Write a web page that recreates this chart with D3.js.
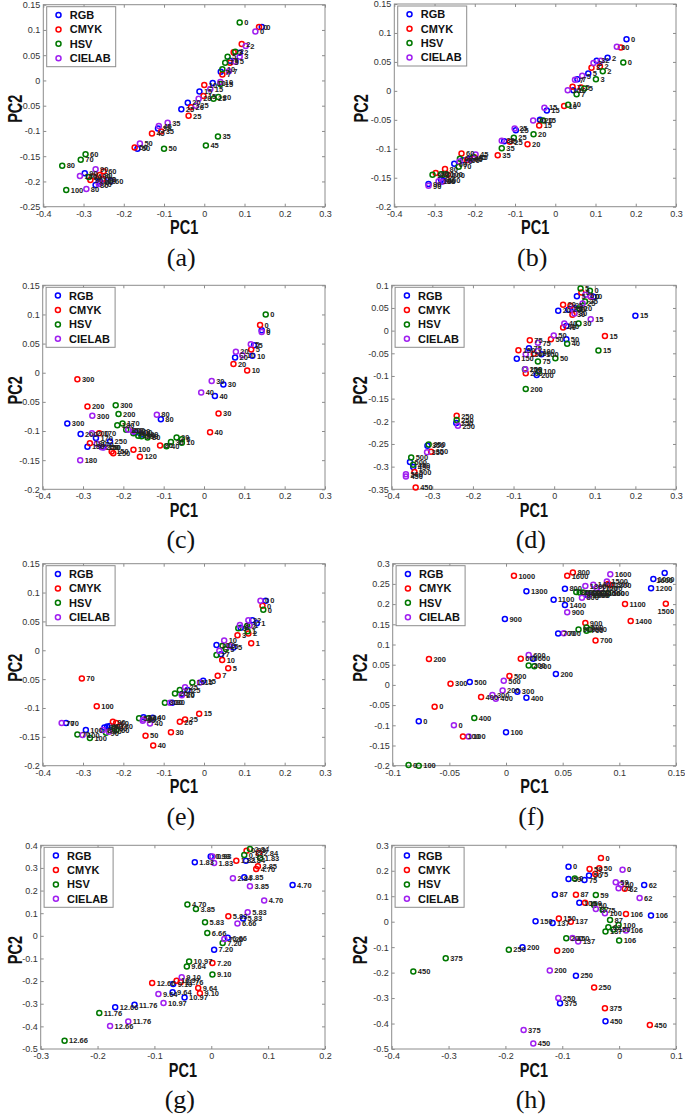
<!DOCTYPE html>
<html><head><meta charset="utf-8">
<script src="https://cdn.jsdelivr.net/npm/d3@7"></script>
<style>
body{margin:0;background:#fff;}
svg{display:block;font-family:"Liberation Sans",Arial,Helvetica,sans-serif;}
</style>
</head><body>
<svg id="chart" width="685" height="1114"></svg>
<script>
// ---------- series ----------
const seriesNames = ["RGB","CMYK","HSV","CIELAB"];
const seriesColors = ["#0000ff","#ff0000","#007800","#a020f0"];

// ---------- tick values ----------
const xTicks_a = [-0.4,-0.3,-0.2,-0.1,0,0.1,0.2,0.3];
const yTicks_a = [-0.25,-0.2,-0.15,-0.1,-0.05,0,0.05,0.1,0.15];
const xTicks_b = [-0.4,-0.3,-0.2,-0.1,0,0.1,0.2,0.3];
const yTicks_b = [-0.2,-0.15,-0.1,-0.05,0,0.05,0.1,0.15];
const xTicks_c = [-0.4,-0.3,-0.2,-0.1,0,0.1,0.2,0.3];
const yTicks_c = [-0.2,-0.15,-0.1,-0.05,0,0.05,0.1,0.15];
const xTicks_d = [-0.4,-0.3,-0.2,-0.1,0,0.1,0.2,0.3];
const yTicks_d = [-0.35,-0.3,-0.25,-0.2,-0.15,-0.1,-0.05,0,0.05,0.1];
const xTicks_e = [-0.4,-0.3,-0.2,-0.1,0,0.1,0.2,0.3];
const yTicks_e = [-0.2,-0.15,-0.1,-0.05,0,0.05,0.1,0.15];
const xTicks_f = [-0.1,-0.05,0,0.05,0.1,0.15];
const yTicks_f = [-0.2,-0.15,-0.1,-0.05,0,0.05,0.1,0.15,0.2,0.25,0.3];
const xTicks_g = [-0.3,-0.2,-0.1,0,0.1,0.2];
const yTicks_g = [-0.5,-0.4,-0.3,-0.2,-0.1,0,0.1,0.2,0.3,0.4];
const xTicks_h = [-0.4,-0.3,-0.2,-0.1,0,0.1];
const yTicks_h = [-0.5,-0.4,-0.3,-0.2,-0.1,0,0.1,0.2,0.3];

// ---------- data: [label, PC1, PC2] ----------
const a_RGB = [["0",0.143,0.106],["2",0.088,0.055],["5",0.064,0.039],["7",0.041,0.017],["10",0.021,-0.005],["15",-0.012,-0.022],["20",-0.041,-0.044],["25",-0.057,-0.057],["35",-0.115,-0.095],["50",-0.166,-0.135],["60",-0.233,-0.199],["70",-0.25,-0.195],["80",-0.27,-0.207],["90",-0.297,-0.184],["100",-0.262,-0.2]];
const a_CMYK = [["0",0.136,0.106],["2",0.093,0.072],["3",0.073,0.056],["5",0.064,0.035],["7",0.045,0.012],["10",0.0,-0.009],["15",-0.002,-0.031],["20",-0.033,-0.053],["25",-0.039,-0.07],["35",-0.107,-0.101],["45",-0.13,-0.105],["50",-0.173,-0.133],["60",-0.25,-0.18],["70",-0.252,-0.195],["80",-0.26,-0.187],["90",-0.283,-0.197],["100",-0.275,-0.19]];
const a_HSV = [["0",0.088,0.115],["2",0.077,0.057],["5",0.058,0.047],["7",0.052,0.035],["10",0.045,0.022],["15",0.04,-0.007],["20",0.035,-0.033],["25",0.023,-0.036],["35",0.034,-0.111],["45",0.004,-0.129],["50",-0.1,-0.135],["60",-0.295,-0.146],["70",-0.307,-0.157],["80",-0.353,-0.169],["90",-0.287,-0.191],["100",-0.343,-0.217]];
const a_CIELAB = [["0",0.127,0.097],["2",0.103,0.068],["3",0.088,0.047],["5",0.077,0.037],["7",0.061,0.018],["10",0.04,-0.003],["15",0.015,-0.017],["20",-0.014,-0.036],["25",-0.021,-0.05],["35",-0.091,-0.084],["45",-0.113,-0.09],["50",-0.16,-0.125],["60",-0.258,-0.202],["70",-0.262,-0.205],["80",-0.293,-0.215],["90",-0.27,-0.176],["100",-0.309,-0.189]];

const b_RGB = [["0",0.177,0.089],["2",0.13,0.057],["3",0.103,0.052],["5",0.082,0.03],["7",0.055,0.02],["10",0.045,0.001],["15",-0.021,-0.034],["20",-0.038,-0.05],["25",-0.098,-0.068],["35",-0.127,-0.087],["45",-0.212,-0.117],["60",-0.251,-0.126],["70",-0.23,-0.12],["80",-0.284,-0.153],["90",-0.315,-0.161],["100",-0.278,-0.155]];
const b_CMYK = [["0",0.163,0.075],["2",0.111,0.042],["3",0.09,0.04],["5",0.064,0.006],["7",0.043,0.007],["10",0.022,-0.026],["15",-0.04,-0.06],["20",-0.069,-0.092],["25",-0.113,-0.088],["35",-0.143,-0.111],["45",-0.2,-0.115],["60",-0.233,-0.108],["70",-0.22,-0.12],["80",-0.274,-0.135],["90",-0.297,-0.142],["100",-0.267,-0.145]];
const b_HSV = [["0",0.169,0.049],["2",0.118,0.034],["3",0.101,0.02],["5",0.072,0.004],["7",0.053,-0.006],["10",0.032,-0.024],["15",-0.03,-0.051],["20",-0.054,-0.075],["25",-0.103,-0.081],["35",-0.133,-0.099],["45",-0.204,-0.114],["60",-0.237,-0.117],["70",-0.24,-0.131],["80",-0.284,-0.144],["90",-0.305,-0.145],["100",-0.272,-0.144]];
const b_CIELAB = [["0",0.153,0.076],["2",0.113,0.052],["3",0.095,0.048],["5",0.067,0.026],["7",0.049,0.019],["10",0.031,0.001],["15",-0.027,-0.029],["20",-0.055,-0.051],["25",-0.101,-0.065],["35",-0.133,-0.086],["45",-0.198,-0.11],["60",-0.212,-0.119],["70",-0.238,-0.122],["80",-0.281,-0.157],["90",-0.315,-0.164],["100",-0.29,-0.156]];

const c_RGB = [["0",0.143,0.073],["5",0.124,0.047],["10",0.12,0.029],["20",0.077,0.026],["30",0.048,-0.02],["40",0.027,-0.04],["80",-0.107,-0.08],["100",-0.17,-0.103],["120",-0.155,-0.106],["150",-0.25,-0.128],["170",-0.268,-0.112],["180",-0.289,-0.127],["200",-0.306,-0.105],["250",-0.233,-0.118],["300",-0.339,-0.087]];
const c_CMYK = [["0",0.139,0.082],["5",0.117,0.04],["10",0.107,0.004],["20",0.073,0.015],["30",0.036,-0.07],["40",0.015,-0.102],["80",-0.109,-0.125],["100",-0.175,-0.132],["120",-0.159,-0.144],["150",-0.229,-0.135],["170",-0.26,-0.104],["180",-0.283,-0.121],["200",-0.289,-0.058],["250",-0.225,-0.138],["300",-0.314,-0.011]];
const c_HSV = [["0",0.153,0.1],["5",-0.055,-0.114],["10",-0.055,-0.12],["20",-0.068,-0.111],["30",-0.082,-0.119],["40",-0.093,-0.126],["80",-0.14,-0.111],["100",-0.163,-0.108],["120",-0.175,-0.104],["150",-0.193,-0.098],["170",-0.202,-0.087],["180",-0.215,-0.09],["200",-0.212,-0.071],["250",-0.155,-0.109],["300",-0.219,-0.056]];
const c_CIELAB = [["0",0.143,0.07],["5",0.116,0.049],["10",0.095,0.03],["20",0.079,0.036],["30",0.019,-0.014],["40",-0.007,-0.034],["80",-0.117,-0.072],["100",-0.188,-0.098],["120",-0.175,-0.101],["150",-0.248,-0.128],["170",-0.266,-0.122],["180",-0.307,-0.15],["200",-0.278,-0.104],["250",-0.254,-0.128],["300",-0.277,-0.074]];

const d_RGB = [["0",0.097,0.075],["5",0.056,0.076],["15",0.2,0.033],["20",0.01,0.044],["25",0.035,0.046],["30",0.05,0.05],["40",0.03,0.01],["50",0.03,-0.019],["75",-0.062,-0.039],["100",-0.031,-0.052],["150",-0.092,-0.062],["200",-0.043,-0.098],["250",-0.241,-0.204],["350",-0.312,-0.254],["450",-0.347,-0.301],["500",-0.355,-0.29]];
const d_CMYK = [["0",0.09,0.075],["5",0.067,0.084],["15",0.125,-0.012],["20",0.022,0.057],["25",0.04,0.055],["30",0.045,0.035],["40",0.022,0.007],["50",-0.008,-0.019],["75",-0.06,-0.021],["100",-0.05,-0.051],["150",-0.088,-0.043],["200",-0.07,-0.094],["250",-0.24,-0.188],["350",-0.303,-0.267],["450",-0.341,-0.346],["500",-0.344,-0.312]];
const d_HSV = [["0",0.088,0.088],["5",0.065,0.093],["15",0.109,-0.044],["20",0.062,0.049],["25",0.076,0.064],["30",0.06,0.016],["40",0.032,-0.029],["50",0.003,-0.061],["75",-0.04,-0.068],["100",-0.038,-0.09],["150",-0.072,-0.085],["200",-0.07,-0.129],["250",-0.24,-0.197],["350",-0.309,-0.251],["450",-0.347,-0.296],["500",-0.352,-0.28]];
const d_CIELAB = [["0",0.09,0.076],["5",0.077,0.079],["15",0.09,0.025],["20",0.045,0.048],["25",0.07,0.06],["30",0.05,0.038],["40",0.025,0.016],["50",-0.001,-0.011],["75",-0.04,-0.027],["100",-0.04,-0.045],["150",-0.07,-0.052],["200",-0.071,-0.085],["250",-0.237,-0.21],["350",-0.313,-0.268],["450",-0.365,-0.322],["500",-0.365,-0.317]];

const e_RGB = [["0",0.153,0.086],["1",0.131,0.047],["2",0.12,0.052],["3",0.091,0.039],["5",0.073,0.005],["7",0.042,-0.007],["10",0.031,0.009],["15",-0.002,-0.053],["20",-0.055,-0.076],["25",-0.041,-0.069],["30",-0.079,-0.091],["40",-0.127,-0.117],["50",-0.15,-0.116],["60",-0.233,-0.131],["70",-0.342,-0.126],["80",-0.247,-0.134],["90",-0.24,-0.132],["100",-0.293,-0.138]];
const e_CMYK = [["0",0.145,0.077],["1",0.117,0.012],["2",0.11,0.029],["3",0.083,0.026],["5",0.06,-0.031],["7",0.034,-0.044],["10",0.045,-0.017],["15",-0.012,-0.11],["20",-0.06,-0.124],["25",-0.047,-0.12],["30",-0.082,-0.142],["40",-0.126,-0.165],["50",-0.145,-0.148],["60",-0.218,-0.126],["70",-0.303,-0.049],["80",-0.208,-0.131],["90",-0.226,-0.124],["100",-0.266,-0.097]];
const e_HSV = [["0",0.147,0.07],["1",0.108,0.033],["2",0.107,0.042],["3",0.085,0.038],["5",0.054,0.002],["7",0.031,-0.008],["10",0.046,0.008],["15",-0.029,-0.056],["20",-0.072,-0.075],["25",-0.06,-0.069],["30",-0.097,-0.091],["40",-0.138,-0.118],["50",-0.161,-0.118],["60",-0.217,-0.138],["70",-0.314,-0.146],["80",-0.222,-0.135],["90",-0.243,-0.143],["100",-0.283,-0.152]];
const e_CIELAB = [["0",0.14,0.086],["1",0.113,0.043],["2",0.11,0.052],["3",0.089,0.044],["5",0.064,0.007],["7",0.038,-0.001],["10",0.05,0.017],["15",-0.01,-0.056],["20",-0.055,-0.078],["25",-0.047,-0.064],["30",-0.084,-0.091],["40",-0.134,-0.127],["50",-0.152,-0.122],["60",-0.15,-0.12],["70",-0.353,-0.126],["80",-0.251,-0.138],["90",-0.236,-0.141],["100",-0.301,-0.147]];

const f_RGB = [["0",-0.077,-0.09],["100",0.0,-0.117],["200",0.044,0.027],["300",0.01,-0.017],["400",0.018,-0.032],["500",-0.032,0.007],["600",0.024,0.065],["700",0.046,0.127],["800",0.052,0.238],["900",-0.001,0.163],["1000",0.13,0.262],["1100",0.042,0.211],["1200",0.128,0.239],["1300",0.018,0.232],["1400",0.052,0.198],["1500",0.072,0.222],["1600",0.14,0.277]];
const f_CMYK = [["0",-0.063,-0.054],["100",-0.038,-0.128],["200",-0.068,0.064],["300",-0.049,0.003],["400",-0.022,-0.03],["500",0.003,0.022],["600",0.013,0.065],["700",0.079,0.11],["800",0.059,0.278],["900",0.07,0.153],["1000",0.007,0.27],["1100",0.105,0.2],["1200",0.092,0.247],["1300",0.09,0.25],["1400",0.11,0.158],["1500",0.141,0.201],["1600",0.054,0.27]];
const f_HSV = [["0",-0.086,-0.198],["100",-0.077,-0.2],["200",0.02,0.048],["300",0.025,0.046],["400",-0.028,-0.082],["500",0.071,0.142],["600",0.074,0.137],["700",0.071,0.134],["800",0.062,0.23],["900",0.064,0.137],["1000",0.065,0.229],["1100",0.068,0.229],["1200",0.072,0.226],["1300",0.078,0.226],["1400",0.082,0.226],["1500",0.086,0.226],["1600",0.09,0.226]];
const f_CIELAB = [["0",-0.046,-0.1],["100",-0.033,-0.128],["200",-0.003,-0.014],["300",-0.012,-0.025],["400",-0.009,-0.034],["500",-0.002,0.01],["600",0.02,0.074],["700",0.051,0.128],["800",0.067,0.216],["900",0.054,0.18],["1000",0.073,0.222],["1100",0.08,0.24],["1200",0.084,0.238],["1300",0.07,0.245],["1400",0.077,0.248],["1500",0.089,0.256],["1600",0.092,0.274]];

const g_RGB = [["0.93",-0.001,0.35],["1.83",-0.029,0.325],["2.84",0.061,0.332],["3.85",0.058,0.259],["4.70",0.143,0.225],["5.83",0.056,0.077],["6.66",0.029,-0.009],["7.20",0.005,-0.061],["9.10",-0.067,-0.213],["9.64",-0.068,-0.249],["10.97",-0.047,-0.272],["11.76",-0.135,-0.305],["12.66",-0.169,-0.316]];
const g_CMYK = [["0.93",0.062,0.376],["1.83",0.044,0.332],["2.84",0.084,0.366],["3.85",0.082,0.307],["4.70",0.079,0.295],["5.83",0.03,0.086],["7.20",0.002,-0.12],["9.10",-0.02,-0.254],["9.64",-0.023,-0.23],["10.97",-0.061,-0.198],["11.76",-0.054,-0.205],["12.66",-0.104,-0.208]];
const g_HSV = [["0.93",0.058,0.357],["1.83",0.086,0.344],["2.84",0.068,0.384],["3.85",-0.027,0.119],["4.70",-0.042,0.138],["5.83",-0.011,0.06],["6.66",-0.007,0.013],["7.20",0.02,-0.032],["9.10",0.002,-0.171],["9.64",-0.043,-0.135],["10.97",-0.039,-0.113],["11.76",-0.197,-0.341],["12.66",-0.258,-0.463]];
const g_CIELAB = [["0.93",0.002,0.351],["1.83",0.005,0.322],["2.84",0.038,0.254],["3.85",0.068,0.219],["4.70",0.093,0.156],["5.83",0.064,0.104],["6.66",0.046,0.055],["7.20",0.023,-0.014],["9.10",-0.052,-0.183],["9.64",-0.093,-0.257],["10.97",-0.084,-0.297],["11.76",-0.146,-0.378],["12.66",-0.178,-0.398]];

const h_RGB = [["0",-0.089,0.216],["50",-0.053,0.181],["59",-0.089,0.168],["62",0.044,0.144],["75",-0.061,0.164],["87",-0.113,0.106],["100",-0.07,0.074],["106",0.056,0.024],["137",-0.117,-0.005],["150",-0.147,0.002],["200",-0.17,-0.1],["250",-0.076,-0.212],["375",-0.104,-0.32],["450",-0.024,-0.391]];
const h_CMYK = [["0",-0.032,0.25],["50",-0.035,0.21],["59",-0.052,0.207],["62",0.01,0.129],["75",-0.042,0.187],["87",-0.076,0.106],["100",-0.06,0.074],["106",0.012,0.03],["137",-0.085,0.0],["150",-0.106,0.013],["200",-0.109,-0.114],["250",-0.044,-0.258],["375",-0.025,-0.34],["450",0.054,-0.406]];
const h_HSV = [["0",-0.078,0.17],["50",-0.044,0.066],["59",-0.041,0.105],["62",-0.019,-0.022],["75",-0.029,0.046],["87",-0.016,0.007],["100",-0.001,-0.013],["106",0.0,-0.074],["137",-0.024,-0.039],["150",-0.01,-0.031],["200",-0.093,-0.065],["250",-0.194,-0.11],["375",-0.305,-0.144],["450",-0.362,-0.196]];
const h_CIELAB = [["0",0.006,0.204],["50",0.003,0.146],["59",-0.006,0.155],["62",0.036,0.093],["75",-0.001,0.131],["87",-0.041,0.05],["100",-0.025,0.033],["106",0.012,-0.035],["137",-0.072,-0.078],["150",-0.082,-0.064],["200",-0.122,-0.192],["250",-0.107,-0.3],["375",-0.168,-0.425],["450",-0.151,-0.478]];

// ---------- layout ----------
const panels = [
  {cap:"(a)", box:[43.3,4.7,325,206.7],   xt:xTicks_a, yt:yTicks_a, s:[a_RGB,a_CMYK,a_HSV,a_CIELAB], ylx:21.7},
  {cap:"(b)", box:[394.3,4.0,676,206.7],  xt:xTicks_b, yt:yTicks_b, s:[b_RGB,b_CMYK,b_HSV,b_CIELAB], ylx:368},
  {cap:"(c)", box:[42.7,285.3,325,489.3], xt:xTicks_c, yt:yTicks_c, s:[c_RGB,c_CMYK,c_HSV,c_CIELAB], ylx:21.7},
  {cap:"(d)", box:[391.7,285.3,676,489.3],xt:xTicks_d, yt:yTicks_d, s:[d_RGB,d_CMYK,d_HSV,d_CIELAB], ylx:367},
  {cap:"(e)", box:[42.7,563.7,325,765.7], xt:xTicks_e, yt:yTicks_e, s:[e_RGB,e_CMYK,e_HSV,e_CIELAB], ylx:21.7},
  {cap:"(f)", box:[392.7,563.7,676,765.7],xt:xTicks_f, yt:yTicks_f, s:[f_RGB,f_CMYK,f_HSV,f_CIELAB], ylx:367},
  {cap:"(g)", box:[40.7,845.3,325,1049],  xt:xTicks_g, yt:yTicks_g, s:[g_RGB,g_CMYK,g_HSV,g_CIELAB], ylx:21.7},
  {cap:"(h)", box:[391.7,845.3,676,1049], xt:xTicks_h, yt:yTicks_h, s:[h_RGB,h_CMYK,h_HSV,h_CIELAB], ylx:367}
];

const axisColor = "#8c8c8c";
const fmt = v => String(+v.toFixed(2));
const svg = d3.select("#chart");
const labelFont = 7.5;
const approxW = s => s.length * labelFont * 0.56;

panels.forEach(p => {
  const [x0,y0,x1,y1] = p.box;
  const x = d3.scaleLinear().domain([p.xt[0], p.xt[p.xt.length-1]]).range([x0,x1]);
  const y = d3.scaleLinear().domain([p.yt[0], p.yt[p.yt.length-1]]).range([y1,y0]);
  const g = svg.append("g");

  g.append("rect").attr("x",x0).attr("y",y0).attr("width",x1-x0).attr("height",y1-y0)
    .attr("fill","#fff").attr("stroke",axisColor).attr("stroke-width",1);

  const styleAxis = sel => {
    sel.select(".domain").remove();
    sel.selectAll(".tick line").attr("stroke",axisColor);
    sel.selectAll(".tick text").attr("fill","#333").style("font-size","9px")
       .style("font-family","'Liberation Sans',Arial,sans-serif");
  };
  g.append("g").attr("transform",`translate(0,${y1})`)
    .call(d3.axisBottom(x).tickValues(p.xt).tickFormat(fmt).tickSizeInner(-3).tickSizeOuter(0).tickPadding(3.5))
    .call(styleAxis);
  g.append("g").attr("transform",`translate(0,${y0})`)
    .call(d3.axisTop(x).tickValues(p.xt).tickFormat("").tickSizeInner(-3).tickSizeOuter(0))
    .call(styleAxis);
  g.append("g").attr("transform",`translate(${x0},0)`)
    .call(d3.axisLeft(y).tickValues(p.yt).tickFormat(fmt).tickSizeInner(-3).tickSizeOuter(0).tickPadding(3))
    .call(styleAxis);
  g.append("g").attr("transform",`translate(${x1},0)`)
    .call(d3.axisRight(y).tickValues(p.yt).tickFormat("").tickSizeInner(-3).tickSizeOuter(0))
    .call(styleAxis);

  // markers
  p.s.forEach((ser,i) => {
    g.append("g").selectAll("circle").data(ser).join("circle")
      .attr("cx",d=>x(d[1])).attr("cy",d=>y(d[2])).attr("r",2.5)
      .attr("fill","none").attr("stroke",seriesColors[i]).attr("stroke-width",1.5);
  });
  // point labels (right of marker; below it if it would leave the axes box)
  p.s.forEach((ser,i) => {
    g.append("g").selectAll("text").data(ser).join("text")
      .each(function(d){
        const px = x(d[1]), py = y(d[2]);
        const t = d3.select(this);
        if (px + 4.5 + approxW(d[0]) > x1 - 1) {
          t.attr("x",px).attr("y",py+10.5).attr("text-anchor","middle");
        } else {
          t.attr("x",px+4.5).attr("y",py+2.7);
        }
      })
      .attr("fill","#222").style("font-size",labelFont+"px").style("font-weight","bold")
      .text(d=>d[0]);
  });

  // legend
  const lg = g.append("g").attr("transform",`translate(${x0+3.4},${y0+2})`);
  lg.append("rect").attr("width",69).attr("height",60).attr("fill","#fff")
    .attr("stroke",axisColor).attr("stroke-width",1);
  seriesNames.forEach((n,i) => {
    const yy = 8.3 + i*14.4;
    lg.append("circle").attr("cx",11.8).attr("cy",yy).attr("r",2.5)
      .attr("fill","none").attr("stroke",seriesColors[i]).attr("stroke-width",1.5);
    lg.append("text").attr("x",23).attr("y",yy).attr("dy","0.36em")
      .style("font-size","11px").style("font-weight","bold").attr("fill","#111").text(n);
  });

  // axis titles
  const cx = (x0+x1)/2, cy = (y0+y1)/2;
  g.append("text").attr("transform",`translate(${cx},${y1+27.5}) scale(1,1.38)`)
    .attr("text-anchor","middle").style("font-size","14.5px").style("font-weight","bold")
    .attr("fill","#111").text("PC1");
  g.append("text").attr("transform",`translate(${p.ylx},${cy+3}) rotate(-90) scale(1,1.38)`)
    .attr("text-anchor","middle").style("font-size","14.5px").style("font-weight","bold")
    .attr("fill","#111").text("PC2");
  // caption
  g.append("text").attr("x",cx-3).attr("y",y1+59)
    .attr("text-anchor","middle").style("font-family","'Liberation Serif','Times New Roman',serif")
    .style("font-size","26px").attr("fill","#111").text(p.cap);
});
</script>
</body></html>
